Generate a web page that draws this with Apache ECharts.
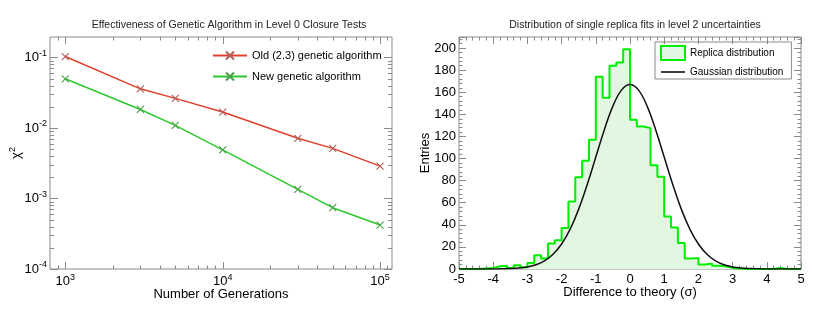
<!DOCTYPE html>
<html><head><meta charset="utf-8">
<script src="https://cdn.jsdelivr.net/npm/echarts@6/dist/echarts.min.js"></script>
<style>html,body{margin:0;padding:0;background:#fff}#c{width:822px;height:310px}</style>
</head><body><div id="c"></div>
<script>
// ---------- Left chart data ----------
const generations = [1000, 3000, 5000, 10000, 30000, 50000, 100000];
const oldChi2 = [0.103, 0.0359, 0.0263, 0.0168, 0.00713, 0.00514, 0.00288];
const newChi2 = [0.0498, 0.0183, 0.0109, 0.0049, 0.00135, 0.00074, 0.00042];
const xMajorTicksL = [1000, 10000, 100000];
const xMinorTicksL = [900, 2000, 3000, 4000, 5000, 6000, 7000, 8000, 9000,
  20000, 30000, 40000, 50000, 60000, 70000, 80000, 90000, 110000];
const yMajorTicksL = [0.0001, 0.001, 0.01, 0.1];
const yMinorTicksL = [0.0002, 0.0003, 0.0004, 0.0005, 0.0006, 0.0007, 0.0008, 0.0009,
  0.002, 0.003, 0.004, 0.005, 0.006, 0.007, 0.008, 0.009,
  0.02, 0.03, 0.04, 0.05, 0.06, 0.07, 0.08, 0.09];

// ---------- Right chart data ----------
const binEdges = [-5, -4.8, -4.6, -4.4, -4.2, -4, -3.8, -3.6, -3.4, -3.2,
  -3, -2.8, -2.6, -2.4, -2.2, -2, -1.8, -1.6, -1.4, -1.2,
  -1, -0.8, -0.6, -0.4, -0.2, 0, 0.2, 0.4, 0.6, 0.8,
  1, 1.2, 1.4, 1.6, 1.8, 2, 2.2, 2.4, 2.6, 2.8,
  3, 3.2, 3.4, 3.6, 3.8, 4, 4.2, 4.4, 4.6, 4.8, 5];
const replicaCounts = [0, 0, 0, 0.5, 1, 2.5, 3, 1, 3.5, 1.5,
  5.5, 12.5, 9.5, 23, 26, 37, 61, 83, 98, 117,
  174, 155, 184, 187, 199, 135, 129, 127.5, 94, 83.5,
  47.5, 37.5, 23.5, 9.5, 10, 4, 5, 3, 2.5, 1,
  0.5, 0, 0, 0, 0, 0, 1, 0, 0, 0];
const gaussX = [-5, -4.75, -4.5, -4.25, -4, -3.75, -3.5, -3.25, -3, -2.75, -2.5, -2.25, -2, -1.75, -1.5, -1.25, -1, -0.75, -0.5, -0.25,
  0, 0.25, 0.5, 0.75, 1, 1.25, 1.5, 1.75, 2, 2.25, 2.5, 2.75, 3, 3.25, 3.5, 3.75, 4, 4.25, 4.5, 4.75, 5];
const gaussY = [0, 0, 0.01, 0.02, 0.06, 0.15, 0.37, 0.85, 1.9, 3.8, 7.3, 13.3, 22.6, 36.1, 54.2, 76.5, 101.3, 126.1, 147.4, 161.9,
  167, 161.9, 147.4, 126.1, 101.3, 76.5, 54.2, 36.1, 22.6, 13.3, 7.3, 3.8, 1.9, 0.85, 0.37, 0.15, 0.06, 0.02, 0.01, 0, 0];

// ---------- build ----------
const F = '"Liberation Sans", Arial, Helvetica, sans-serif';
const FRAME = '#8a8a8a';
const L_XMIN = 800, L_XMAX = 119000, L_YMIN = 0.0001, L_YMAX = 0.195;
const HIST_FILL = '#e2f7e2';

function xTicks(len) {
  return function (params, api) {
    const cs = params.coordSys;
    const x = Math.round(api.coord([api.value(0), L_YMIN])[0]) + 0.5;
    const yb = cs.y + cs.height, yt = cs.y;
    return { type: 'group', children: [
      { type: 'line', shape: { x1: x, y1: yb, x2: x, y2: yb - len }, style: { stroke: FRAME, lineWidth: 1 } },
      { type: 'line', shape: { x1: x, y1: yt, x2: x, y2: yt + len }, style: { stroke: FRAME, lineWidth: 1 } }
    ] };
  };
}
function yTicks(len) {
  return function (params, api) {
    const cs = params.coordSys;
    const y = Math.round(api.coord([L_XMIN, api.value(1)])[1]) + 0.5;
    const xl = cs.x, xr = cs.x + cs.width;
    return { type: 'group', children: [
      { type: 'line', shape: { x1: xl, y1: y, x2: xl + len, y2: y }, style: { stroke: FRAME, lineWidth: 1 } },
      { type: 'line', shape: { x1: xr, y1: y, x2: xr - len, y2: y }, style: { stroke: FRAME, lineWidth: 1 } }
    ] };
  };
}
function tickSeries(data, fn) {
  return { type: 'custom', xAxisIndex: 0, yAxisIndex: 0, silent: true, clip: false,
    renderItem: fn, data: data, z: 5, tooltip: { show: false } };
}

const xMark = 'path://M0,0L10,10M10,0L0,10';
const powRich = {
  b: { fontSize: 13, color: '#000', fontFamily: F },
  s: { fontSize: 9, color: '#000', fontFamily: F, padding: [0, 0, 8, 0] }
};
const powFmt = v => '{b|10}{s|' + Math.round(Math.log10(v)) + '}';

const histData = replicaCounts.map((c, i) => [binEdges[i], c]);
histData.push([binEdges[binEdges.length - 1], replicaCounts[replicaCounts.length - 1]]);

const noLine = { show: false, onZero: false };
const chart = echarts.init(document.getElementById('c'), null, { renderer: 'canvas' });
chart.setOption({
  animation: false,
  aria: { enabled: false, decal: { show: false } },
  backgroundColor: '#fff',
  textStyle: { fontFamily: F },
  title: [
    { text: 'Effectiveness of Genetic Algorithm in Level 0 Closure Tests', left: 224, top: 15, textAlign: 'center',
      textStyle: { fontSize: 10.5, fontWeight: 'normal', color: '#222', fontFamily: F } },
    { text: 'Distribution of single replica fits in level 2 uncertainties', left: 630, top: 15, textAlign: 'center',
      textStyle: { fontSize: 10.5, fontWeight: 'normal', color: '#222', fontFamily: F } }
  ],
  legend: [
    { show: true, orient: 'vertical', left: 207, top: 45, itemWidth: 34, itemHeight: 10, itemGap: 10,
      data: ['Old (2.3) genetic algorithm', 'New genetic algorithm'],
      textStyle: { fontSize: 11, color: '#000', fontFamily: F } },
    { show: true, orient: 'vertical', left: 655, top: 42, itemWidth: 24, itemHeight: 14, itemGap: 6,
      padding: [3, 8, 2, 5], borderColor: FRAME, borderWidth: 1,
      data: [
        { name: 'Replica distribution', icon: 'rect', itemStyle: { color: HIST_FILL, borderColor: '#00ee00', borderWidth: 2 } },
        { name: 'Gaussian distribution', icon: 'path://M0,0L24,0L24,1.6L0,1.6Z', itemStyle: { color: '#111', borderWidth: 0 } }
      ],
      textStyle: { fontSize: 10, color: '#000', fontFamily: F } }
  ],
  grid: [
    { left: 50, top: 37, width: 342, height: 232, show: true, borderColor: FRAME, borderWidth: 1, backgroundColor: 'transparent' },
    { left: 459, top: 37, width: 342, height: 232, show: true, borderColor: FRAME, borderWidth: 1, backgroundColor: 'transparent' }
  ],
  xAxis: [
    { type: 'log', gridIndex: 0, min: L_XMIN, max: L_XMAX, logBase: 10,
      name: 'Number of Generations', nameLocation: 'middle', nameGap: 19, nameMoveOverlap: false,
      nameTextStyle: { fontSize: 13, color: '#000', fontFamily: F },
      axisLine: noLine, axisTick: { show: false }, splitLine: { show: false },
      axisLabel: { margin: 4, showMinLabel: false, showMaxLabel: false, formatter: powFmt, rich: powRich } },
    { type: 'value', gridIndex: 1, min: -5, max: 5, interval: 1,
      name: 'Difference to theory (\u03c3)', nameLocation: 'middle', nameGap: 17, nameMoveOverlap: false,
      nameTextStyle: { fontSize: 13, color: '#000', fontFamily: F },
      axisLine: noLine, splitLine: { show: false },
      axisTick: { show: true, inside: true, length: 7, lineStyle: { color: FRAME } },
      minorTick: { show: true, splitNumber: 5, length: 3.5, lineStyle: { color: FRAME } },
      axisLabel: { margin: 4, fontSize: 13, color: '#000', fontFamily: F } },
    { type: 'value', gridIndex: 1, position: 'top', min: -5, max: 5, interval: 1,
      axisLine: noLine, splitLine: { show: false }, axisLabel: { show: false },
      axisTick: { show: true, inside: true, length: 7, lineStyle: { color: FRAME } },
      minorTick: { show: true, splitNumber: 5, length: 3.5, lineStyle: { color: FRAME } } }
  ],
  yAxis: [
    { type: 'log', gridIndex: 0, min: L_YMIN, max: L_YMAX, logBase: 10,
      name: '{a|\u03c7}{s|2}', nameLocation: 'middle', nameGap: 25, nameMoveOverlap: false,
      nameTextStyle: { fontSize: 13, color: '#000', fontFamily: F,
        rich: { a: { fontSize: 13, color: '#000', fontFamily: F }, s: { fontSize: 9, color: '#000', fontFamily: F, padding: [0, 0, 8, 0] } } },
      axisLine: noLine, axisTick: { show: false }, splitLine: { show: false },
      axisLabel: { margin: 3, showMinLabel: true, showMaxLabel: false, formatter: powFmt, rich: powRich } },
    { type: 'value', gridIndex: 1, min: 0, max: 210, interval: 20,
      name: 'Entries', nameLocation: 'middle', nameGap: 27, nameMoveOverlap: false,
      nameTextStyle: { fontSize: 13, color: '#000', fontFamily: F },
      axisLine: noLine, splitLine: { show: false },
      axisTick: { show: true, inside: true, length: 7, lineStyle: { color: FRAME } },
      minorTick: { show: true, splitNumber: 5, length: 3.5, lineStyle: { color: FRAME } },
      axisLabel: { margin: 3, fontSize: 13, color: '#000', fontFamily: F, showMaxLabel: false } },
    { type: 'value', gridIndex: 1, position: 'right', min: 0, max: 210, interval: 20,
      axisLine: noLine, splitLine: { show: false }, axisLabel: { show: false },
      axisTick: { show: true, inside: true, length: 7, lineStyle: { color: FRAME } },
      minorTick: { show: true, splitNumber: 5, length: 3.5, lineStyle: { color: FRAME } } }
  ],
  series: [
    { name: 'Old (2.3) genetic algorithm', type: 'line', xAxisIndex: 0, yAxisIndex: 0,
      data: generations.map((g, i) => [g, oldChi2[i]]),
      symbol: xMark, symbolSize: 7,
      lineStyle: { color: '#e0402c', width: 1.5 },
      itemStyle: { color: 'rgba(0,0,0,0)', borderColor: '#b0605a', borderWidth: 1.1 }, z: 3 },
    { name: 'New genetic algorithm', type: 'line', xAxisIndex: 0, yAxisIndex: 0,
      data: generations.map((g, i) => [g, newChi2[i]]),
      symbol: xMark, symbolSize: 7,
      lineStyle: { color: '#2cc82c', width: 1.5 },
      itemStyle: { color: 'rgba(0,0,0,0)', borderColor: '#4a9e4a', borderWidth: 1.1 }, z: 3 },
    tickSeries(xMajorTicksL.map(v => [v, L_YMIN]), xTicks(7)),
    tickSeries(xMinorTicksL.map(v => [v, L_YMIN]), xTicks(3.5)),
    tickSeries(yMajorTicksL.map(v => [L_XMIN, v]), yTicks(8)),
    tickSeries(yMinorTicksL.map(v => [L_XMIN, v]), yTicks(4)),
    { name: 'Replica distribution', type: 'line', xAxisIndex: 1, yAxisIndex: 1,
      data: histData, step: 'end', symbol: 'none',
      lineStyle: { color: '#00ee00', width: 2 },
      itemStyle: { color: '#00ee00' },
      areaStyle: { color: HIST_FILL, opacity: 1 }, z: 2 },
    { name: 'Gaussian distribution', type: 'line', xAxisIndex: 1, yAxisIndex: 1,
      data: gaussX.map((x, i) => [x, gaussY[i]]), smooth: 0.4, symbol: 'none',
      lineStyle: { color: '#111', width: 1.5 }, itemStyle: { color: '#111' }, z: 3 }
  ]
});
</script>
</body></html>
